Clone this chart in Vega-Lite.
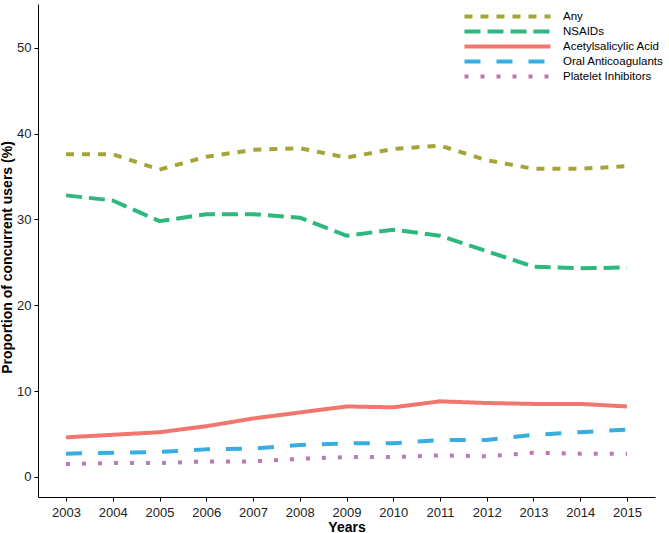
{
  "$schema": "https://vega.github.io/schema/vega-lite/v6.json",
  "width": 617,
  "height": 493,
  "autosize": {"type": "none"},
  "padding": {"left": 38, "top": 4, "right": 14, "bottom": 36},
  "background": "white",
  "config": {
    "font": "Liberation Sans",
    "view": {"stroke": null},
    "axis": {
      "grid": false,
      "domainColor": "black",
      "domainWidth": 1,
      "tickColor": "black",
      "tickSize": 4,
      "tickWidth": 1,
      "labelFontSize": 13,
      "labelColor": "#222222",
      "titleFontSize": 14,
      "titleFontWeight": "bold",
      "titleColor": "black"
    }
  },
  "data": {
    "values": [
      {"year": 2003, "drug": "Any", "pct": 37.6},
      {"year": 2004, "drug": "Any", "pct": 37.6},
      {"year": 2005, "drug": "Any", "pct": 35.8},
      {"year": 2006, "drug": "Any", "pct": 37.3},
      {"year": 2007, "drug": "Any", "pct": 38.1},
      {"year": 2008, "drug": "Any", "pct": 38.3},
      {"year": 2009, "drug": "Any", "pct": 37.2},
      {"year": 2010, "drug": "Any", "pct": 38.2},
      {"year": 2011, "drug": "Any", "pct": 38.6},
      {"year": 2012, "drug": "Any", "pct": 36.9},
      {"year": 2013, "drug": "Any", "pct": 35.9},
      {"year": 2014, "drug": "Any", "pct": 35.9},
      {"year": 2015, "drug": "Any", "pct": 36.2},
      {"year": 2003, "drug": "NSAIDs", "pct": 32.8},
      {"year": 2004, "drug": "NSAIDs", "pct": 32.2},
      {"year": 2005, "drug": "NSAIDs", "pct": 29.8},
      {"year": 2006, "drug": "NSAIDs", "pct": 30.6},
      {"year": 2007, "drug": "NSAIDs", "pct": 30.6},
      {"year": 2008, "drug": "NSAIDs", "pct": 30.2},
      {"year": 2009, "drug": "NSAIDs", "pct": 28.1},
      {"year": 2010, "drug": "NSAIDs", "pct": 28.8},
      {"year": 2011, "drug": "NSAIDs", "pct": 28.1},
      {"year": 2012, "drug": "NSAIDs", "pct": 26.3},
      {"year": 2013, "drug": "NSAIDs", "pct": 24.5},
      {"year": 2014, "drug": "NSAIDs", "pct": 24.3},
      {"year": 2015, "drug": "NSAIDs", "pct": 24.4},
      {"year": 2003, "drug": "Acetylsalicylic Acid", "pct": 4.6},
      {"year": 2004, "drug": "Acetylsalicylic Acid", "pct": 4.9},
      {"year": 2005, "drug": "Acetylsalicylic Acid", "pct": 5.2},
      {"year": 2006, "drug": "Acetylsalicylic Acid", "pct": 5.9},
      {"year": 2007, "drug": "Acetylsalicylic Acid", "pct": 6.8},
      {"year": 2008, "drug": "Acetylsalicylic Acid", "pct": 7.5},
      {"year": 2009, "drug": "Acetylsalicylic Acid", "pct": 8.2},
      {"year": 2010, "drug": "Acetylsalicylic Acid", "pct": 8.1},
      {"year": 2011, "drug": "Acetylsalicylic Acid", "pct": 8.8},
      {"year": 2012, "drug": "Acetylsalicylic Acid", "pct": 8.6},
      {"year": 2013, "drug": "Acetylsalicylic Acid", "pct": 8.5},
      {"year": 2014, "drug": "Acetylsalicylic Acid", "pct": 8.5},
      {"year": 2015, "drug": "Acetylsalicylic Acid", "pct": 8.2},
      {"year": 2003, "drug": "Oral Anticoagulants", "pct": 2.7},
      {"year": 2004, "drug": "Oral Anticoagulants", "pct": 2.8},
      {"year": 2005, "drug": "Oral Anticoagulants", "pct": 2.9},
      {"year": 2006, "drug": "Oral Anticoagulants", "pct": 3.2},
      {"year": 2007, "drug": "Oral Anticoagulants", "pct": 3.3},
      {"year": 2008, "drug": "Oral Anticoagulants", "pct": 3.7},
      {"year": 2009, "drug": "Oral Anticoagulants", "pct": 3.9},
      {"year": 2010, "drug": "Oral Anticoagulants", "pct": 3.9},
      {"year": 2011, "drug": "Oral Anticoagulants", "pct": 4.3},
      {"year": 2012, "drug": "Oral Anticoagulants", "pct": 4.3},
      {"year": 2013, "drug": "Oral Anticoagulants", "pct": 4.9},
      {"year": 2014, "drug": "Oral Anticoagulants", "pct": 5.2},
      {"year": 2015, "drug": "Oral Anticoagulants", "pct": 5.5},
      {"year": 2003, "drug": "Platelet Inhibitors", "pct": 1.5},
      {"year": 2004, "drug": "Platelet Inhibitors", "pct": 1.6},
      {"year": 2005, "drug": "Platelet Inhibitors", "pct": 1.6},
      {"year": 2006, "drug": "Platelet Inhibitors", "pct": 1.8},
      {"year": 2007, "drug": "Platelet Inhibitors", "pct": 1.8},
      {"year": 2008, "drug": "Platelet Inhibitors", "pct": 2.1},
      {"year": 2009, "drug": "Platelet Inhibitors", "pct": 2.3},
      {"year": 2010, "drug": "Platelet Inhibitors", "pct": 2.3},
      {"year": 2011, "drug": "Platelet Inhibitors", "pct": 2.5},
      {"year": 2012, "drug": "Platelet Inhibitors", "pct": 2.4},
      {"year": 2013, "drug": "Platelet Inhibitors", "pct": 2.8},
      {"year": 2014, "drug": "Platelet Inhibitors", "pct": 2.7},
      {"year": 2015, "drug": "Platelet Inhibitors", "pct": 2.7}
    ]
  },
  "mark": {"type": "line", "strokeWidth": 4, "strokeCap": "butt", "strokeJoin": "round"},
  "encoding": {
    "x": {
      "field": "year",
      "type": "quantitative",
      "scale": {"domain": [2002.4, 2015.6], "nice": false, "zero": false},
      "axis": {"values": [2003, 2004, 2005, 2006, 2007, 2008, 2009, 2010, 2011, 2012, 2013, 2014, 2015], "format": "d", "title": "Years", "titlePadding": 1, "labelPadding": 5}
    },
    "y": {
      "field": "pct",
      "type": "quantitative",
      "scale": {"domain": [-2.35, 55.1], "nice": false, "zero": false},
      "axis": {"values": [0, 10, 20, 30, 40, 50], "title": "Proportion of concurrent users (%)", "titlePadding": 2, "labelPadding": 3, "titleY": 253}
    },
    "color": {
      "field": "drug",
      "type": "nominal",
      "scale": {
        "domain": ["Any", "NSAIDs", "Acetylsalicylic Acid", "Oral Anticoagulants", "Platelet Inhibitors"],
        "range": ["#A4A43A", "#2DB87E", "#F0766E", "#38ADE0", "#B87AB8"]
      },
      "legend": {
        "title": null,
        "orient": "none",
        "legendX": 463,
        "legendY": 6,
        "symbolType": "M-10,0H10",
        "symbolSize": 74,
        "symbolStrokeWidth": 4,
        "labelFontSize": 11.5,
        "labelColor": "black",
        "labelOffset": 49,
        "rowPadding": -4
      }
    },
    "strokeDash": {
      "field": "drug",
      "type": "nominal",
      "scale": {
        "domain": ["Any", "NSAIDs", "Acetylsalicylic Acid", "Oral Anticoagulants", "Platelet Inhibitors"],
        "range": [[8, 8], [16, 7], [1, 0], [16, 16], [4, 12]]
      },
      "legend": null
    }
  }
}
